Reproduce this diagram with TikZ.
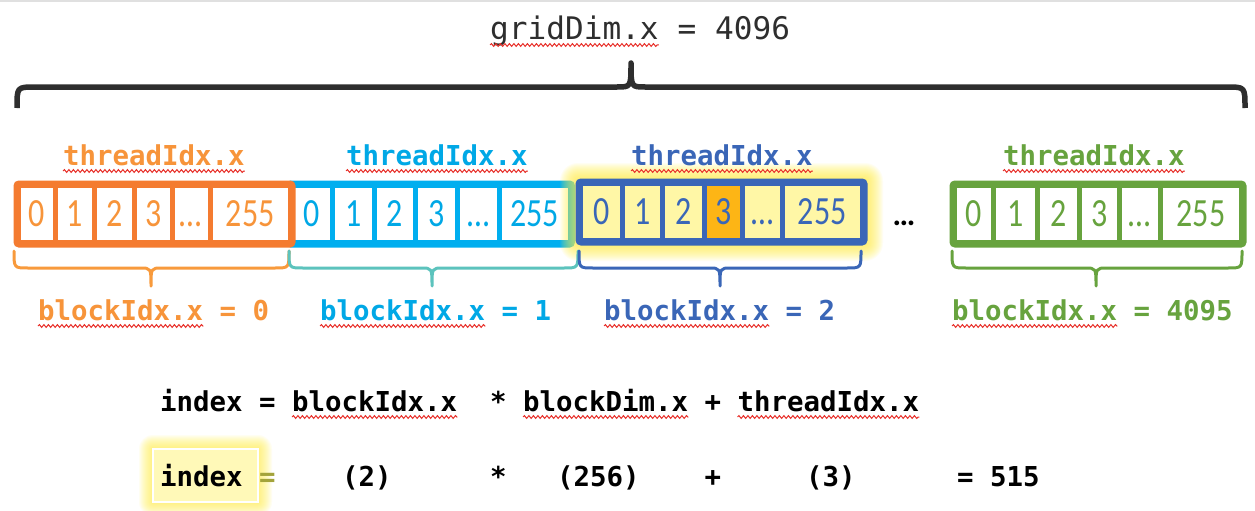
\documentclass[tikz,border=0pt]{standalone}
\usepackage{fontspec}
\newfontfamily\monofont{DejaVu Sans Mono}
\newfontfamily\cellfont[FakeStretch=0.8]{Carlito}
\newfontfamily\dotfont{Carlito}
\usetikzlibrary{decorations.pathmorphing}
\definecolor{cOr}{HTML}{F47B30}
\definecolor{cOrT}{HTML}{F7943A}
\definecolor{cOrB}{HTML}{F89A3C}
\definecolor{cBl}{HTML}{00AEEF}
\definecolor{cBlT}{HTML}{00A8E6}
\definecolor{cTeal}{HTML}{5CC3BD}
\definecolor{cDb}{HTML}{3A66B7}
\definecolor{cGr}{HTML}{67A33E}
\definecolor{cYel}{HTML}{FFF7A6}
\definecolor{cHi}{HTML}{FDB515}
\definecolor{cGlow}{HTML}{FFF14A}
\definecolor{cSq}{HTML}{E8302A}
\definecolor{cOl}{HTML}{A3A33A}
\definecolor{cDark}{HTML}{2E2E2E}
\newcommand\cellrow[5]{% prefix, draw colour, text colour, ymid, list a/b/text/fill
  \foreach \a/\b/\t/\f [count=\i] in {#5} {
    \node[cell, draw=#2, text=#3, fill=\f, minimum width={(\b-\a)*1pt}] (#1\i) at ({(\a+\b)/2}, #4) {\t};
  }}
% opening-up brace: L, C, R, yends, yline, ytip, end radius, tip radius
\newcommand\upbrace[8]{%
  (#1,#4) .. controls (#1,#5) and (#1,#5) .. ({#1+#7},#5) -- ({#2-#8},#5)
  .. controls (#2,#5) and (#2,#5) .. (#2,#6)
  .. controls (#2,#5) and (#2,#5) .. ({#2+#8},#5) -- ({#3-#7},#5)
  .. controls (#3,#5) and (#3,#5) .. (#3,#4)}
\begin{document}
\begin{tikzpicture}[x=1pt,y=-1pt,
  lbl/.style={inner sep=0pt, anchor=base west, font=\monofont\bfseries\fontsize{27.4}{30}\selectfont},
  cell/.style={line width=5pt, inner sep=0pt, minimum height=57pt,
    font=\cellfont\fontsize{40}{44}\selectfont, text height=25pt, text depth=0pt},
  outer/.style={line width=5pt, rounded corners=3pt},
  squig/.style={cSq, line width=1pt, decorate, decoration={snake, amplitude=1.4pt, segment length=4.5pt}},
  brace/.style={line width=3pt, line cap=round, line join=round},
]
\useasboundingbox (0,0) rectangle (1255,511);
\fill[white] (0,0) rectangle (1255,511);
\fill[black!12] (0,0) rectangle (1255,2);

% ---- top label and big brace
\node[inner sep=0pt, anchor=base west, font=\monofont\fontsize{31.1}{34}\selectfont, text=cDark] (gd) at (490,40) {gridDim.x};
\node[inner sep=0pt, anchor=base west, font=\monofont\fontsize{31.1}{34}\selectfont, text=cDark] (gdv) at (677.5,40) {= 4096};
\draw[squig] ([yshift=-5pt]gd.base west) -- ([yshift=-5pt]gd.base east);
\draw[cDark, line width=5.5pt, line join=round]
  (17,108) .. controls (17,87) and (17,87) .. (35,87) -- (617,87)
  .. controls (631,87) and (631,87) .. (631,63)
  .. controls (631,87) and (631,87) .. (645,87) -- (1227,87)
  .. controls (1245,87) and (1245,87) .. (1245,108);

% ---- blue block (drawn first so the orange edge lies on top)
\cellrow{b}{cBl}{cBlT}{214}{290.5/332.5/0/white, 332.5/374.5/1/white, 374.5/415.5/2/white, 415.5/457.5/3/white, 457.5/499.5/…/white, 499.5/570/255/white}
\draw[outer, cBl] (b1.north west) rectangle (b6.south east);

% ---- orange block
\cellrow{o}{cOr}{cOrT}{214}{18.5/55.5/0/white, 55.5/94.5/1/white, 94.5/134.5/2/white, 134.5/172/3/white, 172/210/…/white, 210/290.5/255/white}
\draw[outer, cOr] (o1.north west) rectangle (o6.south east);

% ---- glow around the highlighted block
\foreach \k in {1,...,18}
  \fill[cGlow, opacity=0.07, rounded corners=\k pt] ({578-\k},{181-\k}) rectangle ({865+\k},{243+\k});

% ---- dark blue block
\cellrow{d}{cDb}{cDb}{212}{580.5/622.5/0/cYel, 622.5/662.5/1/cYel, 662.5/704.5/2/cYel, 704.5/742.5/3/cHi, 742.5/782/…/cYel, 782/862.5/255/cYel}
\draw[outer, cDb] (d1.north west) rectangle (d6.south east);

% ---- green block
\cellrow{g}{cGr}{cGr}{214}{954.5/993.5/0/white, 993.5/1037.5/1/white, 1037.5/1079.5/2/white, 1079.5/1119.5/3/white, 1119.5/1160.5/…/white, 1160.5/1241.5/255/white}
\draw[outer, cGr] (g1.north west) rectangle (g6.south east);

\node[inner sep=0pt, anchor=base, font=\dotfont\bfseries\fontsize{32}{36}\selectfont] (gap) at (904,225) {…};

% ---- threadIdx labels
\node[lbl, text=cOrT] (to) at (63,165) {threadIdx.x};
\node[lbl, text=cBlT] (tb) at (346,165) {threadIdx.x};
\node[lbl, text=cDb] (td) at (631,165) {threadIdx.x};
\node[lbl, text=cGr] (tg) at (1003,165) {threadIdx.x};
\foreach \n in {to,tb,td,tg}
  \draw[squig] ([yshift=-6pt]\n.base west) -- ([yshift=-6pt]\n.base east);

% ---- small braces
\draw[brace, cOrB] \upbrace{14}{151}{289}{251}{268}{286}{14}{11};
\draw[brace, cTeal] \upbrace{289}{432}{578}{251}{268}{286}{14}{11};
\draw[brace, cDb] \upbrace{579}{720}{861}{251}{268}{286}{14}{11};
\draw[brace, cGr] \upbrace{952}{1096}{1242}{251}{268}{286}{14}{11};

% ---- blockIdx labels
\node[lbl, text=cOrT] (bo) at (38,320) {blockIdx.x};
\node[lbl, text=cOrT] (bov) at (219.5,320) {= 0};
\node[lbl, text=cBlT] (bb) at (320,320) {blockIdx.x};
\node[lbl, text=cBlT] (bbv) at (501.5,320) {= 1};
\node[lbl, text=cDb] (bd) at (604,320) {blockIdx.x};
\node[lbl, text=cDb] (bdv) at (785.5,320) {= 2};
\node[lbl, text=cGr] (bg) at (952,320) {blockIdx.x};
\node[lbl, text=cGr] (bgv) at (1133.5,320) {= 4095};
\foreach \n in {bo,bb,bd,bg}
  \draw[squig] ([yshift=-6pt]\n.base west) -- ([yshift=-6pt]\n.base east);

% ---- formula line 1
\node[lbl] (fa) at (160,411) {index};
\node[lbl] (fb) at (259,411) {=};
\node[lbl] (fc) at (292,411) {blockIdx.x};
\node[lbl] (fd) at (490,411) {*};
\node[lbl] (fe) at (523,411) {blockDim.x};
\node[lbl] (ff) at (704.5,411) {+};
\node[lbl] (fg) at (737.5,411) {threadIdx.x};
\foreach \n in {fc,fe,fg}
  \draw[squig] ([yshift=-6pt]\n.base west) -- ([yshift=-6pt]\n.base east);

% ---- formula line 2 with highlighted index
\foreach \k in {1,...,14}
  \fill[cGlow, opacity=0.07, rounded corners=\k pt] ({153-\k},{449-\k}) rectangle ({258+\k},{502+\k});
\draw[white, line width=1.5pt, fill=cYel!80] (153,449) rectangle (258,502);
\node[lbl] (ga) at (160,486) {index};
\node[lbl, text=cOl] (gb) at (259,486) {=};
\node[lbl] (gc) at (342,486) {(2)};
\node[lbl] (gdd) at (490,486) {*};
\node[lbl] (ge) at (557,486) {(256)};
\node[lbl] (gf) at (704.5,486) {+};
\node[lbl] (gg) at (806,486) {(3)};
\node[lbl] (gh) at (957,486) {= 515};
\end{tikzpicture}
\end{document}
